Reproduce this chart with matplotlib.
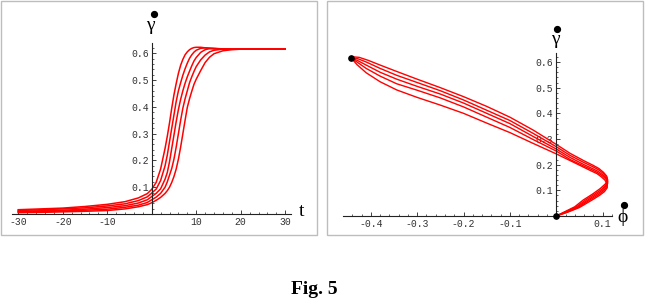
"""
Fig. 5: gamma-dot versus t (left) and the phase curve gamma-dot versus phi-dot (right).
"""

import matplotlib

matplotlib.use("Agg")
import matplotlib.pyplot as plt
from matplotlib.lines import Line2D
from matplotlib.patches import Rectangle

W, H = 645, 307
RED = "#ff0000"
MONO = ["Liberation Mono", "DejaVu Sans Mono"]
SERIF = ["Liberation Serif", "DejaVu Serif"]

# ---- left panel: gamma-dot(t), five curves ----
T = [-30, -25, -20, -15, -10, -6, -3, -1, 0, 1, 2, 3, 3.5, 4, 4.5, 5, 5.5, 6,
     6.5, 7, 7.5, 8, 8.5, 9, 9.5, 10, 11, 12, 13, 14, 16, 18, 20, 25, 30]
G1 = [0.016, 0.019, 0.022, 0.028, 0.036, 0.046, 0.060, 0.076, 0.092, 0.118,
      0.168, 0.245, 0.29, 0.34, 0.395, 0.445, 0.487, 0.525, 0.555, 0.577,
      0.594, 0.605, 0.613, 0.618, 0.621, 0.622, 0.622, 0.620, 0.618, 0.617,
      0.616, 0.615, 0.615, 0.615, 0.615]
G2 = [0.013, 0.016, 0.019, 0.023, 0.030, 0.038, 0.050, 0.064, 0.078, 0.093,
      0.125, 0.18, 0.22, 0.27, 0.32, 0.37, 0.42, 0.46, 0.49, 0.518,
      0.542, 0.563, 0.581, 0.594, 0.604, 0.611, 0.618, 0.620, 0.619, 0.618,
      0.616, 0.615, 0.615, 0.615, 0.615]
G3 = [0.010, 0.012, 0.014, 0.018, 0.024, 0.031, 0.041, 0.053, 0.065, 0.077,
      0.094, 0.13, 0.155, 0.195, 0.245, 0.295, 0.345, 0.39, 0.428, 0.46,
      0.488, 0.512, 0.533, 0.553, 0.571, 0.584, 0.603, 0.613, 0.617, 0.617,
      0.616, 0.615, 0.615, 0.615, 0.615]
G4 = [0.008, 0.009, 0.011, 0.014, 0.018, 0.025, 0.033, 0.043, 0.053, 0.063,
      0.077, 0.10, 0.12, 0.145, 0.17, 0.205, 0.25, 0.30, 0.35, 0.395,
      0.43, 0.46, 0.49, 0.512, 0.532, 0.55, 0.575, 0.593, 0.605, 0.611,
      0.615, 0.615, 0.615, 0.615, 0.615]
G5 = [0.005, 0.006, 0.008, 0.010, 0.013, 0.019, 0.027, 0.035, 0.042, 0.051,
      0.062, 0.077, 0.087, 0.100, 0.118, 0.14, 0.168, 0.205, 0.25, 0.30,
      0.35, 0.398, 0.43, 0.458, 0.484, 0.503, 0.535, 0.565, 0.585, 0.598,
      0.609, 0.613, 0.615, 0.615, 0.615]
LEFT_CURVES = [G1, G2, G3, G4, G5]

# ---- right panel: phase curves (phi-dot, gamma-dot) ----
PHI1 = [0.0, 0.02, 0.04, 0.058, 0.078, 0.095, 0.106, 0.111, 0.109, 0.102,
        0.092, 0.08, 0.06, 0.03, 0.0, -0.05, -0.1, -0.15, -0.2, -0.25, -0.3,
        -0.344, -0.38, -0.405, -0.425, -0.438, -0.442]
GAM1 = [0.0, 0.018, 0.036, 0.062, 0.085, 0.107, 0.125, 0.14, 0.155, 0.17,
        0.185, 0.197, 0.215, 0.244, 0.279, 0.335, 0.385, 0.427, 0.465, 0.50,
        0.533, 0.563, 0.588, 0.606, 0.618, 0.62, 0.615]
PHI2 = [0.0, 0.021, 0.043, 0.063, 0.082, 0.098, 0.107, 0.111, 0.109, 0.102,
        0.092, 0.08, 0.06, 0.03, 0.0, -0.05, -0.1, -0.15, -0.2, -0.25, -0.3,
        -0.344, -0.38, -0.41, -0.43, -0.442]
GAM2 = [0.0, 0.017, 0.035, 0.062, 0.084, 0.104, 0.121, 0.135, 0.15, 0.165,
        0.179, 0.191, 0.208, 0.236, 0.27, 0.322, 0.372, 0.412, 0.452, 0.488,
        0.52, 0.548, 0.575, 0.60, 0.614, 0.615]
PHI3 = [0.0, 0.022, 0.045, 0.068, 0.086, 0.1, 0.108, 0.111, 0.108, 0.1,
        0.09, 0.078, 0.06, 0.03, 0.0, -0.05, -0.1, -0.15, -0.2, -0.25, -0.3,
        -0.344, -0.38, -0.41, -0.43, -0.442]
GAM3 = [0.0, 0.016, 0.034, 0.062, 0.083, 0.101, 0.118, 0.132, 0.147, 0.161,
        0.174, 0.185, 0.2, 0.228, 0.261, 0.31, 0.36, 0.40, 0.44, 0.475,
        0.505, 0.533, 0.56, 0.588, 0.607, 0.615]
PHI4 = [0.0, 0.023, 0.048, 0.072, 0.09, 0.102, 0.109, 0.111, 0.107, 0.099,
        0.089, 0.077, 0.06, 0.03, 0.0, -0.05, -0.1, -0.15, -0.2, -0.25, -0.3,
        -0.344, -0.38, -0.41, -0.43, -0.442]
GAM4 = [0.0, 0.015, 0.034, 0.062, 0.082, 0.098, 0.114, 0.128, 0.144, 0.157,
        0.169, 0.18, 0.194, 0.22, 0.253, 0.298, 0.345, 0.385, 0.425, 0.46,
        0.49, 0.515, 0.545, 0.575, 0.60, 0.615]
PHI5 = [0.0, 0.025, 0.05, 0.077, 0.093, 0.104, 0.11, 0.11, 0.105, 0.097,
        0.088, 0.075, 0.04, 0.0, -0.05, -0.1, -0.15, -0.2, -0.25, -0.3,
        -0.344, -0.38, -0.41, -0.43, -0.442]
GAM5 = [0.0, 0.015, 0.033, 0.062, 0.08, 0.095, 0.11, 0.125, 0.14, 0.153,
        0.165, 0.176, 0.207, 0.242, 0.283, 0.325, 0.362, 0.40, 0.432, 0.462,
        0.491, 0.523, 0.558, 0.59, 0.615]
RIGHT_CURVES = [(PHI1, GAM1), (PHI2, GAM2), (PHI3, GAM3), (PHI4, GAM4), (PHI5, GAM5)]
END_POINTS_PHI = [0.0, -0.442]
END_POINTS_GAM = [0.0, 0.615]

LEFT_XTICKS = [-30, -20, -10, 10, 20, 30]
RIGHT_XTICKS = [-0.4, -0.3, -0.2, -0.1, 0.1]
YTICKS = [0.1, 0.2, 0.3, 0.4, 0.5, 0.6]


def fx(px):
    return px / W


def fy(py):
    return 1 - py / H


def add_axes_px(fig, x0, x1, y_top, y_bot):
    """Axes placed by pixel box (y counted from the top)."""
    return fig.add_axes([fx(x0), fy(y_bot), (x1 - x0) / W, (y_bot - y_top) / H])


def style_axes(ax, xlim, ylim, xticks, xminor, xlabels):
    ax.set_xlim(*xlim)
    ax.set_ylim(*ylim)
    ax.patch.set_visible(False)
    for side in ("top", "right"):
        ax.spines[side].set_visible(False)
    for side in ("left", "bottom"):
        ax.spines[side].set_position(("data", 0))
        ax.spines[side].set_linewidth(0.8)
        ax.spines[side].set_color("#222222")
    ax.set_xticks(xticks)
    ax.set_xticklabels(xlabels, fontfamily=MONO, fontsize=7, color="#333333")
    ax.set_xticks(xminor, minor=True)
    ax.set_yticks(YTICKS)
    ax.set_yticklabels([f"{v:.1f}" for v in YTICKS], fontfamily=MONO,
                       fontsize=7, color="#333333")
    ax.set_yticks([i * 0.02 for i in range(1, 32)], minor=True)
    ax.tick_params(which="major", direction="in", length=3, width=0.6,
                   pad=2, color="#222222")
    ax.tick_params(which="minor", direction="in", length=1.5, width=0.5,
                   color="#222222")


def dot_label(fig, sym, x, y, dx, dy, size=14):
    """Symbol with a heavy dot above it (time derivative)."""
    fig.text(fx(x), fy(y), sym, fontfamily=SERIF, fontsize=size,
             ha="center", va="center")
    fig.add_artist(Line2D([fx(x + dx)], [fy(y + dy)], marker="o", ms=4.2,
                          color="black", transform=fig.transFigure))


def main():
    fig = plt.figure(figsize=(W / 100, H / 100), dpi=100)

    for x0, x1 in ((1, 317), (327, 643)):
        fig.add_artist(Rectangle((fx(x0), fy(235)), (x1 - x0) / W, 234 / H,
                                 transform=fig.transFigure, fill=False,
                                 edgecolor="#bdbdbd", lw=1.0))

    # left
    ax1 = add_axes_px(fig, 12, 291, 43, 214)
    style_axes(ax1, (-31.4, 31.3), (0, 0.638), LEFT_XTICKS,
               list(range(-30, 31, 2)), [str(v) for v in LEFT_XTICKS])
    for g in LEFT_CURVES:
        ax1.plot(T, g, color=RED, lw=1.1, solid_joinstyle="round")

    # right
    ax2 = add_axes_px(fig, 343, 612, 53, 216)
    style_axes(ax2, (-0.46, 0.1203), (0, 0.635), RIGHT_XTICKS,
               [i * 0.02 for i in range(-22, 7)],
               [f"{v:.1f}" for v in RIGHT_XTICKS])
    for phi, gam in RIGHT_CURVES:
        ax2.plot(phi, gam, color=RED, lw=1.0, solid_joinstyle="round")
    ax2.plot(END_POINTS_PHI, END_POINTS_GAM, "o", color="black", ms=3.8,
             zorder=5, clip_on=False)

    dot_label(fig, "\u03b3", 150, 26, 4, -12)
    dot_label(fig, "\u03b3", 555, 40, 2, -11)
    fig.text(fx(302), fy(212), "t", fontfamily=SERIF, fontsize=14,
             ha="center", va="center")
    dot_label(fig, "\u03d5", 623, 218, 1, -13, size=14)

    fig.text(fx(314), fy(290), "Fig. 5", fontfamily=SERIF, fontsize=14,
             fontweight="bold", ha="center", va="center")

    fig.savefig("out.png", dpi=100)
    plt.close(fig)


if __name__ == "__main__":
    main()
